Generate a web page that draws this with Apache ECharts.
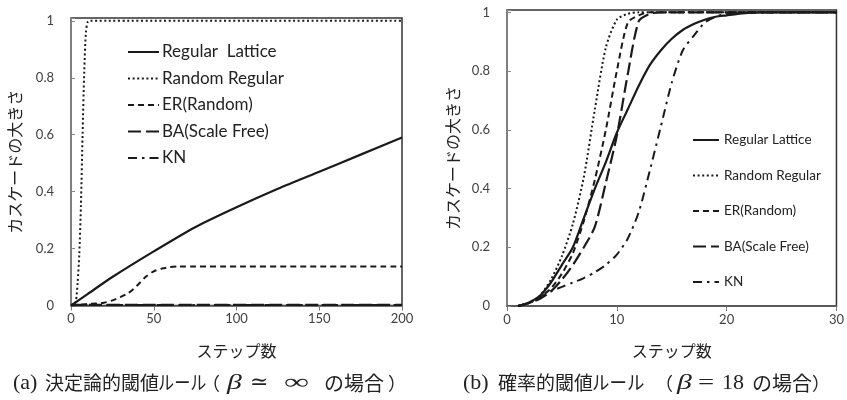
<!DOCTYPE html>
<html><head><meta charset="utf-8">
<script src="https://cdn.jsdelivr.net/npm/echarts@6/dist/echarts.min.js"></script>
<style>html,body{margin:0;padding:0;background:#fff}#c{width:847px;height:400px}</style>
</head><body><div id="c"></div>
<script>
// ---- Left panel (a): deterministic threshold ----
var leftLatticeX = [0, 10, 25, 50, 75, 100, 125, 150, 175, 200];
var leftLatticeY = [0, 0.04, 0.1, 0.19, 0.275, 0.345, 0.41, 0.47, 0.53, 0.59];
var leftRandRegX = [0, 2, 3, 4, 5, 6, 7, 8, 9, 10, 11, 200];
var leftRandRegY = [0, 0.005, 0.015, 0.08, 0.18, 0.35, 0.6, 0.82, 0.96, 0.995, 1, 1];
var leftERX = [0, 10, 20, 25, 30, 35, 40, 45, 50, 55, 60, 65, 200];
var leftERY = [0, 0.005, 0.01, 0.018, 0.03, 0.045, 0.07, 0.1, 0.12, 0.13, 0.135, 0.137, 0.137];
var leftBAX = [0, 200];
var leftBAY = [0.002, 0.002];
var leftKNX = [0, 200];
var leftKNY = [0.002, 0.002];

// ---- Right panel (b): probabilistic threshold ----
var rightX = [1,2,3,4,5,6,7,8,9,10,11,12,13,14,15,16,17,18,19,20,21,22,23,24,25,26,27,28,29,30];
var rightLattice = [0,0.012,0.035,0.08,0.14,0.2,0.3,0.4,0.49,0.59,0.67,0.75,0.82,0.87,0.91,0.94,0.96,0.975,0.985,0.99,0.995,0.998,1,1,1,1,1,1,1,1];
var rightRandReg = [0,0.01,0.035,0.09,0.17,0.28,0.44,0.67,0.88,0.975,0.995,1,1,1,1,1,1,1,1,1,1,1,1,1,1,1,1,1,1,1];
var rightER = [0,0.01,0.03,0.06,0.11,0.18,0.29,0.43,0.6,0.8,0.965,0.99,1,1,1,1,1,1,1,1,1,1,1,1,1,1,1,1,1,1];
var rightBA = [0,0.01,0.025,0.05,0.09,0.14,0.2,0.27,0.42,0.58,0.79,0.97,0.995,1,1,1,1,1,1,1,1,1,1,1,1,1,1,1,1,1];
var rightKN = [0,0.01,0.03,0.05,0.065,0.08,0.095,0.115,0.14,0.175,0.23,0.32,0.46,0.61,0.76,0.87,0.92,0.965,0.985,0.995,1,1,1,1,1,1,1,1,1,1];
var yTicks = [0, 0.2, 0.4, 0.6, 0.8, 1];

var leftNames = ['Regular  Lattice', 'Random Regular', 'ER(Random)', 'BA(Scale Free)', 'KN'];
var rightNames = ['Regular Lattice', 'Random Regular', 'ER(Random)', 'BA(Scale Free)', 'KN'];
var yName = 'カスケードの大きさ';
var xName = 'ステップ数';
var captionAParts = ['(a)', '決定論的閾値', 'ルール', '（', 'β', '≃', '∞', 'の場合', '）'];
var captionBParts = ['(b)', '確率的閾値', 'ルール', '（', 'β', '=', '18', 'の場合', '）'];

function pairs(xs, ys) { return xs.map(function (x, i) { return [x, ys[i]]; }); }

var styles = [
  { type: 'solid', width: 2.2 },
  { type: [2, 2.6], width: 2 },
  { type: [6, 4], width: 2 },
  { type: [13, 5], width: 2.2 },
  { type: [9, 5, 2.5, 5], width: 2 }
];
var ink = '#1a1a1a';

function mkSeries(name, data, idx, gi) {
  var st = styles[idx];
  return {
    type: 'line', name: name, data: data, xAxisIndex: gi, yAxisIndex: gi,
    symbol: 'none', smooth: 0.25,
    lineStyle: { color: ink, width: st.width, type: st.type },
    itemStyle: { color: ink },
    z: 5 - idx
  };
}

var tickFmt = function (v) {
  for (var i = 0; i < yTicks.length; i++) if (Math.abs(v - yTicks[i]) < 1e-6) return String(yTicks[i]);
  return '';
};

var labelFont = { fontFamily: 'Lato', fontSize: 13, color: '#404040' };

function mkX(gi, max, interval) {
  return {
    type: 'value', gridIndex: gi, min: 0, max: max, interval: interval,
    name: xName, nameLocation: 'middle', nameGap: 37,
    nameTextStyle: { fontFamily: 'Noto Sans CJK JP', fontSize: 16, color: '#222' },
    axisLine: { show: true, lineStyle: { color: '#555', width: 1.5 } },
    axisTick: { show: true, inside: false, length: 5, lineStyle: { color: '#777' } },
    axisLabel: Object.assign({ margin: 7 }, labelFont),
    splitLine: { show: false }
  };
}
function mkY(gi, max, gap) {
  return {
    type: 'value', gridIndex: gi, min: 0, max: max, interval: 0.2,
    name: yName, nameLocation: 'middle', nameGap: gap, nameRotate: 90,
    nameTextStyle: { fontFamily: 'Noto Sans CJK JP', fontSize: 16, color: '#222' },
    axisLine: { show: true, lineStyle: { color: '#888', width: 1.5 } },
    axisTick: { show: true, inside: true, length: 4, lineStyle: { color: '#888' } },
    axisLabel: Object.assign({ margin: 17, formatter: tickFmt }, labelFont),
    splitLine: { show: false }
  };
}

var series = [
  mkSeries(leftNames[0], pairs(leftLatticeX, leftLatticeY), 0, 0),
  mkSeries(leftNames[1], pairs(leftRandRegX, leftRandRegY), 1, 0),
  mkSeries(leftNames[2], pairs(leftERX, leftERY), 2, 0),
  mkSeries(leftNames[3], pairs(leftBAX, leftBAY), 3, 0),
  mkSeries(leftNames[4], pairs(leftKNX, leftKNY), 4, 0),
  mkSeries(rightNames[0], pairs(rightX, rightLattice), 0, 1),
  mkSeries(rightNames[1], pairs(rightX, rightRandReg), 1, 1),
  mkSeries(rightNames[2], pairs(rightX, rightER), 2, 1),
  mkSeries(rightNames[3], pairs(rightX, rightBA), 3, 1),
  mkSeries(rightNames[4], pairs(rightX, rightKN), 4, 1)
];

var serif = "'Liberation Serif', 'DejaVu Serif', serif";
var cjk = "'Noto Sans CJK JP'";
function piece(text, x, font, size, italic, sx) {
  return { type: 'text', x: x, y: 383, scaleX: sx || 1, silent: true,
    style: { text: text, fontFamily: font, fontSize: size, fontStyle: italic ? 'italic' : 'normal',
      fill: '#222', textAlign: 'left', textVerticalAlign: 'middle' } };
}
var capFont = [serif, cjk, cjk, cjk, serif, serif, serif, cjk, cjk];
var capPosA = [13, 45, 158, 202, 227, 250, 284, 324, 388];
var capSizeA = [22, 19, 19, 18, 22, 22, 22, 20, 18];
var capScaleA = [1, 1, 0.85, 1, 1.35, 1, 1.6, 1, 1];
var capPosB = [463, 498, 592, 655, 677, 698, 722, 752, 812];
var capSizeB = [22, 19, 19, 18, 22, 22, 22, 20, 18];
var capScaleB = [1, 1, 0.92, 1, 1.35, 1.3, 1, 1, 1];
var graphics = [];
captionAParts.forEach(function (t, i) { graphics.push(piece(t, capPosA[i], capFont[i], capSizeA[i], i === 4, capScaleA[i])); });
captionBParts.forEach(function (t, i) { graphics.push(piece(t, capPosB[i], capFont[i], capSizeB[i], i === 4, capScaleB[i])); });

var chart = echarts.init(document.getElementById('c'), null, { renderer: 'canvas' });
chart.setOption({
  animation: false,
  backgroundColor: '#fff',
  grid: [
    { left: 71, top: 18, width: 331, height: 287.5, show: true, borderColor: '#333', borderWidth: 1.5, containLabel: false },
    { left: 507, top: 10, width: 334, height: 296, show: true, borderColor: '#333', borderWidth: 1.5, containLabel: false }
  ],
  xAxis: [ mkX(0, 200, 50), mkX(1, 30, 10) ],
  yAxis: [ mkY(0, 1.01, 48), mkY(1, 1.008, 46) ],
  legend: [
    {
      orient: 'vertical', left: 122, top: 37, itemWidth: 31, itemHeight: 10, itemGap: 6.5,
      data: leftNames, selectedMode: false, itemStyle: { opacity: 0, borderWidth: 0 },
      textStyle: { fontFamily: 'Lato', fontSize: 17, lineHeight: 20, color: '#222', padding: [0, 0, 0, -2] }
    },
    {
      orient: 'vertical', left: 687, top: 126, itemWidth: 26, itemHeight: 10, itemGap: 17.5,
      data: rightNames, selectedMode: false, itemStyle: { opacity: 0, borderWidth: 0 },
      textStyle: { fontFamily: 'Lato', fontSize: 13.5, lineHeight: 18, color: '#222' }
    }
  ],
  graphic: graphics,
  series: series
});
</script>
</body></html>
